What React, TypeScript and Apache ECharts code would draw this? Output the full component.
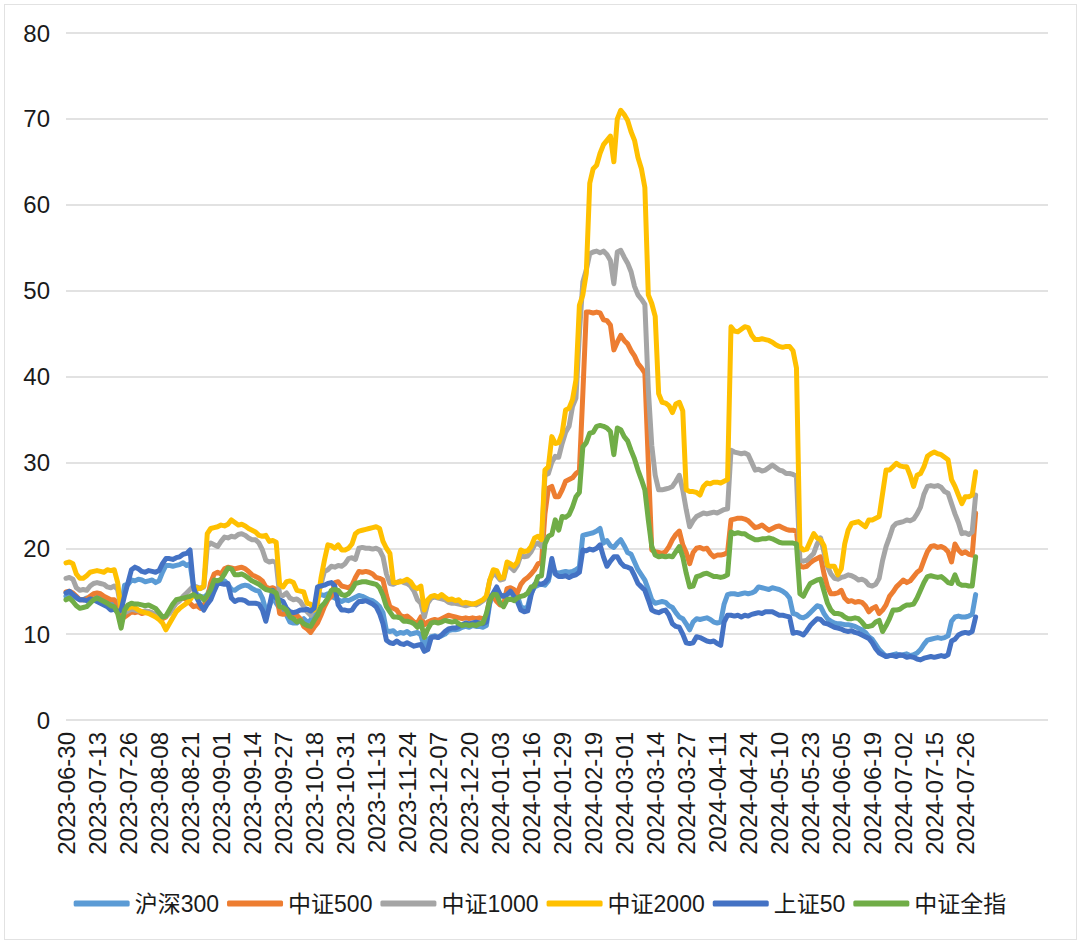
import React, { useEffect, useRef } from 'react';
import * as echarts from 'echarts';

// Trading calendar (weekday closures of the exchanges)
const START_DATE = '2023-06-30';
const END_DATE = '2024-07-31';
const HOLIDAYS = [
  '2023-09-29', '2023-10-02', '2023-10-03', '2023-10-04', '2023-10-05', '2023-10-06',
  '2024-01-01',
  '2024-02-09', '2024-02-12', '2024-02-13', '2024-02-14', '2024-02-15', '2024-02-16',
  '2024-04-04', '2024-04-05',
  '2024-05-01', '2024-05-02', '2024-05-03',
  '2024-06-10',
];
const EMPTY_TAIL = 21; // blank category slots after the last date

const SERIES_NAMES = ['沪深300', '中证500', '中证1000', '中证2000', '上证50', '中证全指'];
const COLORS = ['#5B9BD5', '#ED7D31', '#A5A5A5', '#FFC000', '#4472C4', '#70AD47'];
const Y_TICKS = [0, 10, 20, 30, 40, 50, 60, 70, 80];

const hs300 = [
  14.4, 14.6, 14.4, 14.2, 14.0, 14.0, 14.2, 14.0, 14.0, 14.3,
  14.2, 14.0, 14.0, 13.8, 13.6, 13.2, 13.0, 15.7, 15.8, 16.3,
  16.2, 16.4, 16.3, 16.1, 16.2, 16.3, 16.0, 16.2, 17.2, 18.0,
  18.0, 17.9, 18.0, 18.1, 18.3, 18.0, 18.2, 15.5, 14.6, 14.4,
  14.3, 14.6, 15.5, 15.9, 16.1, 16.3, 16.2, 15.8, 15.2, 15.1,
  15.4, 15.6, 15.7, 15.6, 15.3, 15.1, 15.0, 14.2, 12.8, 13.2,
  14.4, 13.6, 13.0, 13.0, 12.2, 11.4, 11.3, 11.3, 11.6, 11.8,
  11.4, 11.6, 12.5, 14.4, 14.6, 14.5, 14.7, 14.4, 14.2, 14.0,
  13.8, 14.0, 13.9, 14.1, 14.3, 14.5, 14.4, 14.2, 14.0, 13.9,
  13.6, 13.2, 12.5, 10.4, 10.3, 10.4, 10.0, 10.2, 10.1, 10.3,
  10.0, 10.1, 10.2, 9.9, 8.5, 9.3, 9.7, 9.8, 9.6, 9.8,
  10.0, 10.4, 10.5, 10.5, 10.6, 10.8, 10.9, 10.8, 11.0, 10.9,
  10.9, 10.8, 11.0, 13.6, 14.6, 14.9, 14.4, 14.4, 14.8, 15.0,
  14.8, 14.5, 13.2, 13.0, 13.2, 14.8, 15.5, 15.7, 15.8, 15.7,
  16.2, 18.0, 17.2, 17.1, 17.2, 17.3, 17.2, 17.3, 17.5, 17.8,
  21.5, 21.6, 21.7, 21.8, 22.0, 22.3, 20.6, 20.9, 20.3, 20.1,
  20.6, 21.0, 20.3, 19.5, 19.3, 18.4, 17.5, 16.9, 16.3, 15.2,
  14.0, 13.6, 13.7, 13.8, 13.7, 13.3, 13.1, 12.5, 12.0, 11.8,
  11.2, 10.5, 11.4, 11.8, 11.7, 11.8, 11.9, 11.7, 11.4, 11.3,
  11.4, 13.5, 14.6, 14.7, 14.7, 14.6, 14.7, 14.8, 14.7, 14.8,
  15.0, 15.5, 15.4, 15.3, 15.2, 15.4, 15.3, 15.2, 15.0, 14.7,
  14.2, 12.4, 12.3, 12.0, 11.9, 12.1, 12.5, 12.9, 13.3, 13.2,
  12.4, 11.8, 11.5, 11.3, 11.2, 11.2, 11.1, 11.1, 11.0, 10.9,
  10.7, 10.5, 10.2, 9.7, 9.4, 8.8, 8.2, 7.8, 7.4, 7.5,
  7.6, 7.7, 7.5, 7.6, 7.7, 7.5, 7.6, 7.8, 8.2, 8.8,
  9.3, 9.4, 9.5, 9.6, 9.5, 9.6, 9.8, 11.5, 12.0, 12.1,
  12.0, 12.0, 12.1, 12.3, 14.6,
];

const csi500 = [
  14.9, 15.0, 14.8, 14.4, 14.0, 14.0, 14.1, 14.4, 14.7, 14.8,
  14.7, 14.4, 14.2, 14.0, 14.0, 13.5, 12.3, 12.0, 12.3, 12.6,
  12.5, 12.6, 12.4, 12.5, 12.6, 12.4, 12.2, 12.0, 11.8, 12.0,
  12.6, 13.2, 13.8, 14.0, 14.2, 14.0, 13.6, 13.2, 13.3, 13.0,
  13.4, 14.0, 16.0, 17.0, 17.2, 17.0, 17.6, 17.8, 17.7, 17.6,
  17.7, 17.8, 17.6, 17.3, 16.9, 16.7, 16.5, 16.2, 15.5, 15.3,
  15.4, 15.2, 12.4, 12.3, 12.4, 12.2, 12.1, 12.2, 11.8, 10.9,
  10.6, 10.2, 10.8, 11.3, 12.2, 13.2, 14.0, 14.4, 16.0, 16.1,
  15.6, 15.5, 15.4, 15.7, 16.6, 17.3, 17.2, 17.3, 17.2, 17.0,
  16.6, 16.5, 16.3, 14.5, 13.2, 13.0, 12.8, 12.2, 12.0, 12.1,
  11.8, 11.4, 11.3, 12.0, 11.1, 11.4, 11.6, 11.7, 11.6, 11.8,
  12.0, 12.2, 12.1, 12.0, 11.9, 11.8, 11.9, 11.8, 11.9, 11.8,
  11.9, 11.8, 11.9, 14.4, 14.4, 13.8, 13.4, 13.4, 15.3, 15.4,
  15.2, 14.8, 15.8, 16.3, 16.6, 17.0, 17.5, 18.2, 18.3, 24.0,
  27.0, 27.2, 26.0, 26.0, 26.8, 27.8, 28.0, 28.2, 28.7, 29.0,
  38.0, 47.5, 47.5, 47.4, 47.5, 47.4, 46.6, 46.5, 46.0, 43.1,
  44.0, 44.8, 44.2, 43.8, 43.0, 42.4, 41.5, 41.0, 40.4, 30.0,
  19.8, 19.6, 19.5, 19.4, 19.6, 20.2, 21.0, 21.6, 22.0, 20.4,
  19.5, 18.2, 19.5, 20.0, 20.1, 19.9, 20.0, 19.4, 19.0, 19.2,
  19.2, 19.3, 19.5, 23.3, 23.4, 23.5, 23.5, 23.4, 23.2, 22.8,
  22.4, 22.5, 22.7, 22.4, 22.1, 22.3, 22.5, 22.6, 22.4, 22.2,
  22.1, 22.1, 22.0, 17.9, 17.8, 17.9, 18.3, 18.6, 18.8, 19.0,
  17.0, 15.5, 14.7, 14.7, 14.8, 15.1, 14.2, 13.8, 13.9, 13.7,
  13.8, 13.7, 13.3, 12.6, 13.0, 13.2, 12.4, 12.8, 13.4, 14.4,
  14.9, 15.5, 15.9, 16.3, 16.0, 16.2, 16.7, 17.2, 17.5, 18.6,
  19.6, 20.2, 20.3, 20.1, 20.2, 20.0, 19.6, 18.4, 20.5, 19.8,
  19.4, 19.6, 19.3, 19.2, 24.1,
];

const csi1000 = [
  16.5, 16.6, 16.4, 15.4, 15.1, 15.2, 15.1, 15.6, 15.9, 16.0,
  15.9, 15.8, 15.5, 15.4, 15.6, 15.2, 12.8, 12.5, 12.7, 12.9,
  12.8, 12.7, 12.6, 12.7, 12.6, 12.5, 12.3, 12.1, 12.0, 12.1,
  12.4, 13.0, 13.6, 13.9, 14.4, 14.8, 15.2, 15.6, 15.5, 15.3,
  15.5, 20.2, 20.6, 20.4, 20.2, 20.8, 21.3, 21.2, 21.4, 21.3,
  21.6, 21.7, 21.5, 21.2, 21.0, 21.0, 20.6, 19.8, 18.6, 18.4,
  18.5, 18.3, 14.6, 14.5, 14.8, 14.2, 14.0, 14.1, 13.8, 13.2,
  12.6, 12.2, 13.0, 14.4, 15.8, 17.3, 17.5, 17.9, 17.8, 18.0,
  17.9, 18.2, 18.8, 18.9, 18.7, 20.0, 20.1, 20.0, 20.0, 19.9,
  20.0, 19.8, 19.0, 17.0, 15.9, 15.8, 16.0, 16.2, 16.0, 15.9,
  15.6, 15.0, 14.0, 13.6, 12.0, 13.6, 14.2, 14.3, 14.2, 14.1,
  14.0, 13.7, 13.6, 13.6, 13.5, 13.4, 13.3, 13.4, 13.5, 13.4,
  13.6, 13.9, 14.2, 16.3, 17.1, 16.8, 16.3, 16.4, 18.0, 17.8,
  17.4, 18.0, 19.2, 19.0, 19.1, 19.6, 20.4, 20.6, 20.2, 28.5,
  28.7, 30.0, 30.7, 30.6, 32.2, 33.5, 34.2, 36.5, 37.5, 45.0,
  51.0, 52.4, 54.3, 54.5, 54.6, 54.4, 54.6, 54.2, 53.5, 50.8,
  54.5, 54.7, 53.9, 53.2, 52.2, 50.5, 49.5, 49.0, 48.4, 38.5,
  32.0, 28.5, 26.8, 26.8, 26.9, 27.0, 27.2, 27.8, 28.5, 26.8,
  24.5, 22.5, 23.2, 23.7, 23.9, 24.1, 24.0, 24.1, 24.2, 24.1,
  24.3, 24.5, 24.6, 31.4, 31.2, 31.1, 31.0, 31.1, 30.9, 30.0,
  29.1, 29.2, 29.0, 29.1, 29.4, 29.7, 29.4, 29.1, 29.0, 28.7,
  28.7, 28.6, 28.4, 18.6, 18.5, 18.6, 19.0, 19.4, 20.5, 21.2,
  19.5, 17.9, 17.0, 16.5, 16.4, 16.6, 16.7, 16.9, 16.8, 16.6,
  16.3, 16.4, 16.2, 15.7, 15.6, 15.8, 16.5, 18.6, 20.2, 21.3,
  22.5, 22.9, 23.0, 23.1, 23.3, 23.2, 23.4, 24.0, 24.8, 26.3,
  27.2, 27.3, 27.2, 27.3, 27.1, 26.6, 26.4, 25.2, 24.0, 23.0,
  21.7, 21.8, 21.6, 21.9, 26.2,
];

const csi2000 = [
  18.3, 18.4, 18.2, 17.0, 16.5, 16.5, 16.8, 17.2, 17.3, 17.4,
  17.3, 17.2, 17.5, 17.4, 17.5, 16.0, 12.8, 13.2, 13.0, 13.2,
  13.1, 12.8, 12.6, 12.5, 12.4, 12.2, 12.0, 11.7, 11.3, 10.5,
  11.2, 11.9, 12.6, 13.0, 13.3, 13.6, 14.0, 14.6, 15.4, 15.3,
  15.6, 21.7, 22.3, 22.4, 22.5, 22.7, 22.6, 22.8, 23.3, 23.0,
  22.7, 22.8, 22.6, 22.3, 22.1, 21.9, 21.5, 21.4, 21.5, 20.8,
  20.9, 20.7, 15.8, 15.5, 16.1, 16.2, 16.0, 15.1, 15.0, 14.9,
  13.6, 13.5, 12.8, 13.6, 16.5, 18.6, 20.4, 20.3, 20.0, 20.4,
  19.8, 19.8, 20.0, 20.5, 21.7, 22.0, 22.1, 22.2, 22.3, 22.4,
  22.5, 22.3, 20.8, 20.0, 19.4, 16.0, 16.0, 16.1, 16.2, 16.4,
  16.1, 15.5, 15.3, 15.6, 12.8, 14.0, 14.4, 14.5, 14.3, 14.6,
  14.3, 14.0, 14.1, 13.9, 14.0, 13.6, 13.7, 13.6, 13.5, 13.6,
  13.8, 14.0, 14.4, 16.3, 17.5, 17.4, 16.5, 16.6, 18.4, 18.2,
  17.9, 18.4, 19.8, 19.6, 19.7, 20.2, 21.2, 21.4, 21.0, 29.1,
  29.5, 33.0, 32.2, 32.3, 33.4, 36.1, 36.3, 37.3, 39.6, 48.3,
  49.5, 52.0, 62.5, 64.2, 64.6, 66.0, 67.0, 67.5, 68.0, 65.0,
  70.0, 71.0, 70.5, 69.8, 68.5, 67.5, 65.5, 64.2, 62.0, 49.5,
  48.5, 47.0, 38.0, 37.0, 36.9, 36.6, 35.8, 36.8, 37.0, 36.0,
  26.8, 26.6, 26.6, 26.5, 26.2, 27.2, 27.6, 27.5, 27.7, 27.7,
  27.6, 27.8, 28.0, 45.8, 45.3, 45.2, 45.5, 45.8, 45.7, 44.8,
  44.3, 44.3, 44.4, 44.3, 44.2, 44.0, 43.7, 43.5, 43.4, 43.5,
  43.5, 43.0, 41.0, 20.2, 19.8, 19.9, 20.8, 21.7, 21.2, 21.0,
  20.3, 18.0, 17.9, 17.9, 16.9, 17.6, 20.5, 22.1, 22.9, 23.0,
  23.1, 22.8, 22.5, 23.3, 23.3, 23.5, 23.7, 26.4, 29.1, 29.1,
  29.5, 29.9, 29.6, 29.5, 29.5, 28.5, 27.2, 28.5, 28.7, 29.5,
  30.7, 31.0, 31.2, 31.0, 30.9, 30.6, 30.3, 28.0, 27.2, 26.2,
  25.2, 26.0, 26.0, 26.2, 28.9,
];

const sz50 = [
  14.8, 15.0, 14.6, 14.3, 14.0, 14.0, 13.9, 14.1, 14.0, 13.8,
  13.6, 13.4, 13.2, 12.8, 12.9, 12.6, 12.8, 14.5, 16.0, 17.5,
  17.8, 17.6, 17.3, 17.2, 17.4, 17.3, 17.2, 17.4, 18.2, 18.8,
  18.8, 18.7, 18.9, 19.0, 19.3, 19.4, 19.8, 15.5, 14.2, 13.4,
  12.8, 13.5, 14.0, 15.0, 15.9, 15.9, 15.8, 15.9, 14.2, 13.8,
  14.0, 14.0, 13.9, 13.6, 13.6, 13.6, 13.5, 12.8, 11.5, 13.2,
  15.1, 14.2, 14.0, 13.8, 13.0, 12.6, 12.5, 12.6, 12.8, 12.8,
  12.9, 12.7, 13.0, 15.5, 15.6, 15.7, 15.9, 16.0, 15.6, 13.4,
  12.8, 12.8, 12.7, 12.8, 13.4, 13.8, 13.8, 13.9, 13.7, 13.5,
  13.2, 12.4, 11.2, 9.3, 9.0, 8.9, 9.2, 8.9, 8.8, 9.0,
  8.8, 8.6, 8.7, 8.8, 8.0, 8.2, 9.6, 9.7, 9.6, 9.9,
  10.3, 10.6, 10.7, 10.7, 10.9, 11.1, 11.3, 11.2, 11.3, 11.4,
  11.3, 11.2, 11.4, 14.0, 14.8, 15.5, 14.6, 14.4, 14.6, 15.0,
  14.4, 13.8, 12.8, 12.6, 12.7, 14.6, 15.8, 15.9, 15.8, 16.0,
  16.5, 18.8, 17.0, 16.7, 16.7, 16.8, 16.6, 16.8, 16.9, 17.2,
  19.8, 19.7, 19.9, 19.8, 20.0, 20.4, 19.0, 17.9, 18.5, 19.0,
  19.0, 18.3, 17.9, 17.8, 17.6, 16.8, 15.9, 15.5, 15.1, 14.0,
  12.8, 12.6, 12.5, 12.7, 12.8, 12.2, 11.2, 10.9, 10.8, 10.0,
  9.0, 8.9, 9.0, 9.7, 9.6, 9.4, 9.2, 9.1, 9.2, 8.9,
  8.7, 11.4, 12.2, 12.2, 12.1, 12.2, 12.0, 12.2, 12.1, 12.3,
  12.4, 12.5, 12.4, 12.6, 12.6, 12.6, 12.4, 12.2, 12.2, 12.1,
  12.0, 10.1, 10.2, 10.1, 9.9, 10.4, 11.0, 11.4, 11.8, 11.7,
  11.3, 11.2, 11.0, 10.8, 10.7, 10.6, 10.4, 10.3, 10.4, 10.2,
  10.1, 9.9, 9.7, 9.5, 9.0, 8.3, 7.8, 7.6, 7.4, 7.5,
  7.5, 7.4, 7.6, 7.5, 7.3, 7.4, 7.3, 7.1, 7.0, 7.2,
  7.3, 7.4, 7.3, 7.4, 7.5, 7.4, 7.6, 9.2, 9.4, 9.9,
  10.1, 10.2, 10.1, 10.3, 12.0,
];

const csiAll = [
  14.0, 14.2, 13.8, 13.3, 13.0, 13.1, 13.2, 13.6, 14.0, 14.2,
  14.0, 13.8, 13.6, 13.3, 13.2, 12.4, 10.7, 12.8, 13.4, 13.6,
  13.5, 13.5, 13.4, 13.3, 13.4, 13.2, 13.0, 12.5, 12.0, 12.1,
  12.8, 13.5, 14.0, 14.1, 14.2, 14.3, 14.4, 14.6, 14.3, 14.4,
  14.0, 14.5, 15.2, 16.3, 16.2, 16.4, 17.0, 17.7, 17.6, 16.9,
  16.9, 17.0, 16.8, 16.5, 16.2, 16.0, 15.8, 15.5, 15.2, 15.1,
  15.0, 14.8, 13.2, 13.1, 12.8, 12.0, 11.8, 11.4, 11.6, 11.2,
  11.0, 10.9, 11.6, 12.2, 13.2, 13.6, 14.2, 15.1, 15.2, 15.1,
  14.6, 14.5, 14.7, 15.2, 15.9, 16.0, 16.1, 16.1, 16.0, 15.9,
  15.8, 15.4, 14.5, 13.2, 12.6, 12.0, 12.0, 11.9, 11.5, 11.5,
  11.4, 11.2, 10.8, 11.4, 9.6, 10.6, 11.3, 11.4, 11.3, 11.4,
  11.6, 11.5, 11.4, 11.5, 11.2, 11.0, 11.1, 11.0, 11.1, 11.0,
  11.2, 11.3, 12.4, 14.0, 14.6, 14.6, 13.6, 13.2, 14.0, 14.1,
  13.9, 14.2, 14.4, 14.5, 14.8, 15.5, 15.6, 16.7, 16.8, 20.5,
  21.4, 21.6, 23.3, 22.1, 23.7, 23.6, 23.9, 24.8, 26.0, 26.5,
  31.8, 32.3, 33.4, 33.5, 34.2, 34.3, 34.2, 34.0, 33.6, 30.9,
  34.0, 33.8, 33.0, 32.5, 31.4, 30.4, 29.1, 28.0, 26.8, 23.3,
  20.2, 19.2, 19.0, 19.1, 19.0, 19.1, 19.0, 19.6, 20.2, 19.0,
  17.1, 15.5, 15.6, 16.7, 16.8, 17.0, 17.1, 16.9, 16.7, 16.7,
  16.6, 16.7, 16.9, 21.9, 21.7, 21.8, 21.7, 21.7, 21.4, 21.2,
  21.0, 21.0, 21.1, 21.1, 21.2, 21.1, 20.9, 20.7, 20.6, 20.6,
  20.6, 20.6, 20.5, 14.7, 14.4, 15.2, 15.9, 16.1, 16.3, 16.4,
  15.0, 13.6, 12.8, 12.4, 12.4, 12.3, 12.0, 11.8, 11.8, 11.9,
  11.8, 11.4, 10.9, 10.9, 11.0, 11.4, 11.6, 10.3, 11.0, 11.8,
  12.8, 12.8, 12.9, 13.2, 13.4, 13.4, 13.5, 14.2, 15.1, 16.0,
  16.7, 16.8, 16.7, 16.6, 16.7, 16.4, 16.0, 15.9, 16.9, 15.9,
  15.7, 15.7, 15.6, 15.6, 19.0,
];

const SERIES_DATA = [hs300, csi500, csi1000, csi2000, sz50, csiAll];

function buildTradingDays(): string[] {
  const out: string[] = [];
  const holidaySet = new Set(HOLIDAYS);
  const d = new Date(START_DATE + 'T00:00:00Z');
  const end = new Date(END_DATE + 'T00:00:00Z').getTime();
  while (d.getTime() <= end) {
    const dow = d.getUTCDay();
    const s = d.toISOString().slice(0, 10);
    if (dow !== 0 && dow !== 6 && !holidaySet.has(s)) out.push(s);
    d.setUTCDate(d.getUTCDate() + 1);
  }
  return out;
}

const FONT = "'Liberation Sans', Arial, 'Noto Sans CJK SC', sans-serif";
const TEXT_COLOR = '#1a1a1a';

export default function App() {
  const ref = useRef<HTMLDivElement | null>(null);

  useEffect(() => {
    if (!ref.current) return;
    const chart = echarts.init(ref.current, undefined, { renderer: 'svg' });
    const days = buildTradingDays();
    const categories = [...days, ...Array(EMPTY_TAIL).fill('')];

    chart.setOption({
      animation: false,
      backgroundColor: 'transparent',
      textStyle: { fontFamily: FONT },
      grid: { left: 66, right: 32, top: 33, bottom: 224, containLabel: false },
      legend: {
        data: SERIES_NAMES,
        left: 'center',
        top: 887,
        icon: 'roundRect',
        itemWidth: 56,
        itemHeight: 6,
        itemGap: 8,
        textStyle: { fontSize: 23, color: TEXT_COLOR, fontFamily: FONT },
      },
      xAxis: {
        type: 'category',
        boundaryGap: false,
        data: categories,
        axisLine: { show: false },
        axisTick: { show: false },
        splitLine: { show: false },
        axisLabel: {
          interval: 8,
          rotate: 90,
          margin: 12,
          fontSize: 24,
          color: TEXT_COLOR,
          fontFamily: FONT,
        },
      },
      yAxis: {
        type: 'value',
        min: Y_TICKS[0],
        max: Y_TICKS[Y_TICKS.length - 1],
        interval: 10,
        axisLine: { show: false },
        axisTick: { show: false },
        axisLabel: { fontSize: 24, color: TEXT_COLOR, margin: 16, fontFamily: FONT },
        splitLine: { lineStyle: { color: '#d9d9d9', width: 1.5 } },
      },
      series: SERIES_NAMES.map((name, k) => ({
        name,
        type: 'line',
        data: SERIES_DATA[k],
        showSymbol: false,
        symbol: 'none',
        smooth: false,
        color: COLORS[k],
        lineStyle: { width: 5, color: COLORS[k], cap: 'round', join: 'round' },
        emphasis: { disabled: true },
      })),
    });

    return () => chart.dispose();
  }, []);

  return (
    <div style={{ position: 'absolute', left: 0, top: 0, width: 1080, height: 944, background: '#fff' }}>
      <div ref={ref} style={{ position: 'absolute', left: 0, top: 0, width: 1080, height: 944 }} />
      <div
        style={{
          position: 'absolute',
          left: 4,
          top: 4,
          width: 1073,
          height: 936,
          border: '1.5px solid #e2e2e2',
          boxSizing: 'border-box',
          pointerEvents: 'none',
        }}
      />
    </div>
  );
}
